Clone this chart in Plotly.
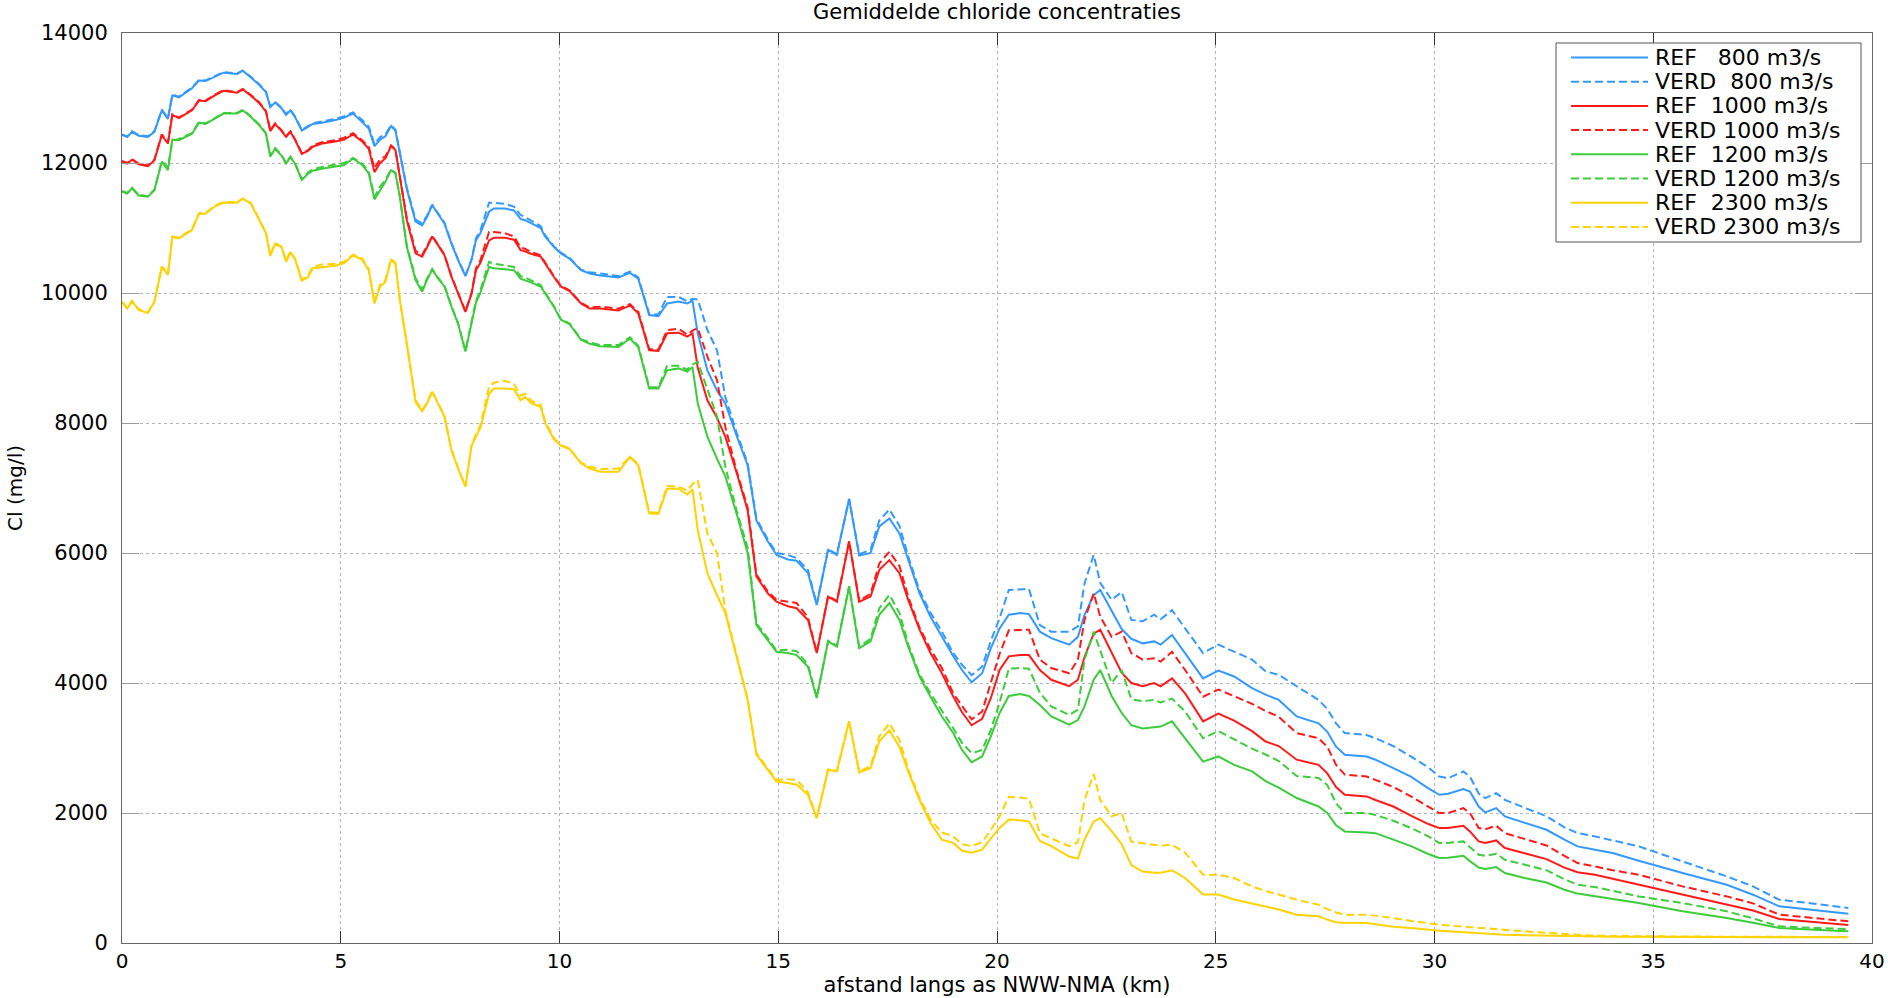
import plotly.graph_objects as go

km = [0.00, 0.12, 0.23, 0.38, 0.59, 0.74, 0.91, 1.05, 1.15, 1.30, 1.60, 1.76, 1.91, 2.12, 2.32, 2.63, 2.76, 2.94,
      3.14, 3.29, 3.39, 3.50, 3.65, 3.75, 3.85, 3.96, 4.11, 4.26, 4.36, 4.57, 4.88, 5.08, 5.28, 5.49, 5.64, 5.77,
      5.90, 6.02, 6.15, 6.25, 6.35, 6.51, 6.71, 6.86, 6.97, 7.09, 7.22, 7.37, 7.53, 7.68, 7.85, 7.99, 8.09, 8.19,
      8.39, 8.50, 8.75, 8.96, 9.11, 9.21, 9.36, 9.57, 9.67, 9.87, 10.03, 10.23, 10.49, 10.69, 10.93, 11.35, 11.61,
      11.80, 12.05, 12.26, 12.46, 12.72, 12.92, 13.04, 13.16, 13.38, 13.60, 13.79, 14.05, 14.30, 14.50, 14.76,
      14.96, 15.22, 15.42, 15.68, 15.88, 16.14, 16.34, 16.62, 16.85, 17.11, 17.31, 17.54, 17.77, 17.97, 18.23,
      18.48, 18.74, 19.00, 19.20, 19.42, 19.66, 19.86, 20.06, 20.27, 20.52, 20.73, 20.98, 21.24, 21.65, 21.85,
      22.00, 22.21, 22.36, 22.62, 22.85, 23.07, 23.33, 23.59, 23.74, 24.00, 24.30, 24.71, 25.06, 25.42, 25.83,
      26.14, 26.44, 26.85, 27.35, 27.55, 27.75, 27.95, 28.45, 28.65, 29.06, 29.46, 29.86, 30.11, 30.31, 30.66,
      30.81, 31.01, 31.16, 31.41, 31.61, 32.06, 32.56, 32.97, 33.27, 33.67, 34.07, 34.67, 35.67, 36.68, 37.28,
      37.88, 38.68, 39.46]

ref_800 = [12430, 12400, 12480, 12420, 12400, 12480, 12810, 12680, 13040, 13010, 13150, 13270, 13260, 13330, 13390, 13370, 13420, 13320,
           13200, 13090, 12860, 12930, 12840, 12740, 12810, 12700, 12500, 12560, 12600, 12620, 12660, 12700, 12760, 12630, 12530, 12260,
           12360, 12410, 12570, 12500, 12150, 11600, 11100, 11040, 11170, 11350, 11220, 11070, 10760, 10510, 10260, 10510, 10810, 10920,
           11250, 11300, 11300, 11270, 11140, 11120, 11070, 11000, 10870, 10710, 10610, 10530, 10350, 10300, 10270, 10240, 10310,
           10220, 9660, 9645, 9840, 9870, 9840, 9880, 9380, 8810, 8500, 8300, 7800, 7350, 6500, 6180,
           5970, 5900, 5880, 5690, 5200, 6050, 5970, 6830, 5960, 6000, 6410, 6530, 6300, 5890, 5380,
           5020, 4710, 4410, 4200, 4010, 4150, 4535, 4840, 5050, 5075, 5060, 4790, 4690, 4590, 4710,
           5050, 5350, 5430, 5120, 4830, 4680, 4610, 4640, 4590, 4740, 4460, 4070, 4190, 4100, 3920,
           3820, 3740, 3485, 3380, 3250, 3020, 2895, 2870, 2820, 2690, 2560, 2380, 2280, 2296, 2367,
           2330, 2100, 2009, 2075, 1947, 1845, 1742, 1590, 1486, 1435, 1384, 1266, 1076, 897, 743,
           564, 512, 451]

verd_800 = [12440, 12410, 12490, 12430, 12410, 12490, 12820, 12690, 13050, 13020, 13160, 13280, 13270, 13340, 13400, 13380, 13420, 13330,
            13210, 13100, 12870, 12940, 12850, 12750, 12820, 12710, 12510, 12570, 12610, 12640, 12680, 12720, 12780, 12660, 12560, 12290,
            12400, 12440, 12580, 12510, 12160, 11620, 11130, 11070, 11190, 11360, 11230, 11080, 10770, 10520, 10270, 10520, 10840, 10960,
            11390, 11390, 11370, 11330, 11200, 11170, 11110, 11030, 10890, 10720, 10620, 10540, 10360, 10320, 10300, 10260, 10330,
            10240, 9680, 9670, 9940, 9940, 9870, 9910, 9900, 9430, 9120, 8400, 7850, 7380, 6530, 6210,
            6000, 5970, 5920, 5740, 5210, 6060, 5980, 6830, 5980, 6050, 6500, 6670, 6420, 5950, 5420,
            5080, 4790, 4460, 4280, 4120, 4250, 4650, 5000, 5430, 5440, 5450, 4890, 4790, 4790, 4870,
            5530, 5970, 5540, 5280, 5400, 4970, 4950, 5050, 4980, 5120, 4840, 4460, 4590, 4480, 4360,
            4180, 4125, 3950, 3740, 3600, 3380, 3230, 3200, 3150, 3030, 2870, 2700, 2560, 2536, 2639,
            2560, 2300, 2229, 2306, 2203, 2080, 1950, 1780, 1691, 1640, 1580, 1486, 1255, 1025, 871,
            666, 605, 538]

ref_1000 = [12020, 11990, 12050, 11980, 11950, 12040, 12430, 12300, 12740, 12690, 12810, 12960, 12950, 13040, 13110, 13080, 13130, 13040,
            12920, 12790, 12490, 12600, 12490, 12400, 12480, 12350, 12140, 12190, 12250, 12300, 12330, 12360, 12440, 12330, 12220, 11860,
            12000, 12070, 12260, 12200, 11790, 11120, 10610, 10560, 10700, 10870, 10740, 10580, 10250, 9990, 9710, 9990, 10350, 10460,
            10810, 10850, 10850, 10820, 10660, 10640, 10600, 10560, 10450, 10250, 10100, 10030, 9840, 9760, 9760, 9730, 9810,
            9690, 9120, 9110, 9380, 9390, 9330, 9380, 8850, 8350, 8080, 7790, 7230, 6660, 5640, 5380,
            5250, 5180, 5150, 4970, 4460, 5330, 5250, 6175, 5250, 5330, 5740, 5890, 5690, 5280, 4820,
            4460, 4150, 3790, 3550, 3350, 3450, 3770, 4200, 4410, 4430, 4430, 4200, 4050, 3950, 4050,
            4400, 4760, 4820, 4460, 4160, 4000, 3950, 4000, 3950, 4070, 3840, 3410, 3530, 3420, 3260,
            3100, 3030, 2820, 2740, 2610, 2400, 2280, 2255, 2200, 2100, 1960, 1830, 1768, 1768, 1804,
            1717, 1563, 1538, 1578, 1461, 1380, 1290, 1160, 1090, 1050, 990, 897, 743, 589, 500,
            369, 317, 276]

verd_1000 = [12030, 12000, 12060, 11990, 11960, 12050, 12440, 12310, 12750, 12700, 12820, 12970, 12960, 13050, 13120, 13090, 13140, 13050,
             12930, 12800, 12500, 12610, 12500, 12410, 12490, 12360, 12150, 12200, 12270, 12320, 12350, 12390, 12460, 12350, 12250, 11920,
             12060, 12100, 12270, 12210, 11800, 11150, 10650, 10590, 10720, 10880, 10750, 10590, 10260, 10000, 9720, 10000, 10380, 10500,
             10940, 10940, 10920, 10870, 10700, 10680, 10630, 10580, 10470, 10260, 10110, 10040, 9850, 9780, 9790, 9760, 9830,
             9710, 9140, 9130, 9430, 9450, 9360, 9420, 9460, 9020, 8660, 7940, 7260, 6700, 5670, 5410,
             5280, 5250, 5230, 5010, 4470, 5340, 5260, 6180, 5270, 5370, 5840, 6020, 5800, 5330, 4850,
             4520, 4230, 3840, 3640, 3440, 3560, 3990, 4450, 4810, 4820, 4820, 4360, 4230, 4150, 4360,
             4970, 5380, 5020, 4710, 4790, 4460, 4360, 4380, 4330, 4480, 4200, 3790, 3900, 3800, 3680,
             3570, 3480, 3230, 3150, 3020, 2740, 2590, 2560, 2510, 2400, 2255, 2100, 2000, 2000, 2075,
             2000, 1768, 1750, 1804, 1691, 1600, 1500, 1340, 1230, 1178, 1120, 1050, 871, 717, 610,
             436, 384, 333]

ref_1200 = [11560, 11530, 11610, 11500, 11480, 11580, 12020, 11890, 12360, 12350, 12450, 12620, 12600, 12680, 12760, 12760, 12810, 12710,
            12580, 12450, 12100, 12220, 12110, 11990, 12090, 11980, 11740, 11840, 11880, 11910, 11940, 11970, 12070, 11970, 11840, 11440,
            11580, 11710, 11890, 11840, 11480, 10710, 10200, 10020, 10200, 10360, 10230, 10100, 9790, 9530, 9100, 9530, 9850, 10000,
            10400, 10380, 10360, 10350, 10220, 10200, 10160, 10100, 9990, 9790, 9590, 9520, 9280, 9220, 9180, 9170, 9300,
            9170, 8530, 8530, 8810, 8840, 8790, 8860, 8300, 7790, 7450, 7180, 6600, 6000, 4890, 4660,
            4480, 4460, 4430, 4250, 3770, 4640, 4560, 5480, 4535, 4640, 5050, 5230, 4970, 4560, 4100,
            3790, 3485, 3230, 2970, 2780, 2870, 3180, 3540, 3800, 3830, 3800, 3660, 3485, 3360, 3430,
            3640, 4050, 4200, 3800, 3540, 3350, 3300, 3320, 3330, 3410, 3150, 2790, 2870, 2740, 2640,
            2490, 2390, 2230, 2100, 2000, 1810, 1717, 1700, 1690, 1590, 1490, 1370, 1307, 1310, 1342,
            1260, 1160, 1138, 1168, 1076, 1000, 930, 820, 760, 720, 680, 615, 487, 384, 310,
            231, 205, 179]

verd_1200 = [11570, 11540, 11620, 11510, 11490, 11590, 12030, 11930, 12340, 12370, 12460, 12630, 12610, 12690, 12770, 12770, 12820, 12720,
             12590, 12460, 12110, 12230, 12120, 12000, 12100, 11990, 11750, 11860, 11900, 11940, 11970, 12000, 12080, 11990, 11870, 11480,
             11640, 11740, 11900, 11850, 11490, 10730, 10230, 10050, 10220, 10370, 10240, 10110, 9800, 9540, 9110, 9540, 9880, 10040,
             10480, 10450, 10420, 10400, 10260, 10240, 10190, 10120, 10010, 9800, 9600, 9530, 9290, 9240, 9200, 9200, 9320,
             9190, 8550, 8550, 8880, 8880, 8820, 8900, 8940, 8510, 8100, 7330, 6650, 6080, 4920, 4690,
             4500, 4510, 4490, 4280, 3780, 4650, 4570, 5490, 4560, 4680, 5150, 5355, 5080, 4600, 4130,
             3840, 3580, 3305, 3080, 2920, 2970, 3280, 3700, 4220, 4230, 4220, 3850, 3640, 3510, 3590,
             4360, 4790, 4500, 4000, 4200, 3750, 3720, 3740, 3700, 3760, 3560, 3150, 3260, 3130, 2990,
             2900, 2800, 2570, 2540, 2430, 2150, 2000, 2000, 1970, 1880, 1770, 1640, 1538, 1540, 1563,
             1480, 1358, 1340, 1373, 1281, 1200, 1120, 980, 897, 860, 800, 717, 615, 487, 380,
             256, 231, 215]

ref_2300 = [9860, 9760, 9870, 9740, 9690, 9860, 10400, 10280, 10860, 10840, 10970, 11220, 11220, 11330, 11390, 11390, 11450, 11380,
            11120, 10920, 10570, 10760, 10700, 10480, 10630, 10510, 10190, 10250, 10380, 10400, 10420, 10460, 10580, 10510, 10350, 9840,
            10100, 10170, 10510, 10450, 9890, 9220, 8320, 8180, 8300, 8480, 8300, 8100, 7580, 7300, 7020, 7650, 7790, 7920,
            8450, 8530, 8530, 8520, 8350, 8400, 8300, 8250, 8000, 7750, 7650, 7600, 7380, 7300, 7250, 7250, 7480,
            7350, 6610, 6600, 6990, 6990, 6900, 6980, 6350, 5690, 5350, 5080, 4400, 3740, 2900, 2665,
            2485, 2460, 2435, 2280, 1920, 2665, 2640, 3410, 2625, 2690, 3100, 3270, 3020, 2640, 2200,
            1845, 1590, 1540, 1420, 1390, 1435, 1610, 1770, 1900, 1890, 1870, 1570, 1490, 1330, 1300,
            1590, 1870, 1920, 1720, 1520, 1200, 1100, 1080, 1080, 1120, 1000, 745, 745, 670, 610,
            570, 515, 436, 410, 360, 320, 310, 307, 290, 250, 230, 200, 190, 180, 164,
            160, 150, 145, 135, 128, 120, 112, 105, 102, 100, 98, 95, 92, 90, 88,
            87, 87, 87]

verd_2300 = [9870, 9770, 9880, 9750, 9700, 9870, 10410, 10300, 10870, 10850, 10980, 11230, 11230, 11340, 11400, 11400, 11450, 11390,
             11130, 10930, 10580, 10770, 10710, 10490, 10640, 10520, 10200, 10280, 10400, 10440, 10450, 10480, 10590, 10530, 10370, 9860,
             10130, 10200, 10520, 10460, 9900, 9240, 8350, 8200, 8310, 8490, 8310, 8110, 7590, 7310, 7030, 7660, 7830, 7960,
             8560, 8620, 8650, 8600, 8420, 8450, 8340, 8280, 8030, 7770, 7660, 7610, 7390, 7330, 7290, 7300, 7480,
             7370, 6630, 6620, 7030, 7020, 6960, 7060, 7120, 6300, 6000, 5120, 4420, 3760, 2920, 2690,
             2510, 2520, 2510, 2320, 1930, 2670, 2650, 3410, 2640, 2720, 3180, 3380, 3120, 2680, 2230,
             1900, 1700, 1640, 1520, 1490, 1550, 1740, 1950, 2250, 2240, 2220, 1690, 1610, 1490, 1550,
             2200, 2600, 2200, 1950, 2000, 1560, 1530, 1510, 1500, 1510, 1390, 1050, 1050, 1000, 870,
             800, 745, 666, 590, 520, 470, 436, 436, 420, 384, 340, 300, 282, 270, 250,
             240, 230, 220, 210, 205, 180, 155, 135, 125, 112, 108, 102, 100, 97, 95,
             93, 92, 92]

legend_names = ["REF\u00a0\u00a0\u00a0800 m3/s", "VERD\u00a0\u00a0800 m3/s",
                "REF\u00a0\u00a01000 m3/s", "VERD 1000 m3/s",
                "REF\u00a0\u00a01200 m3/s", "VERD 1200 m3/s",
                "REF\u00a0\u00a02300 m3/s", "VERD 2300 m3/s"]

BLUE, RED, GREEN, YELLOW = "#3399ff", "#ff1a1a", "#3ccc3c", "#ffd200"
series = [ref_800, verd_800, ref_1000, verd_1000, ref_1200, verd_1200, ref_2300, verd_2300]
colors = [BLUE, BLUE, RED, RED, GREEN, GREEN, YELLOW, YELLOW]
dashes = ["solid", "8px,4px"] * 4

for s in series:
    assert len(s) == len(km), (len(s), len(km))

fig = go.Figure()
for name, ys, col, dsh in zip(legend_names, series, colors, dashes):
    fig.add_trace(go.Scatter(x=km, y=ys, mode="lines", name=name, showlegend=False,
                             line=dict(color=col, width=2, dash=dsh)))

W, H = 1888, 998
ML, MR, MT, MB = 122, 16, 33, 55
PW, PH = W - ML - MR, H - MT - MB


def px_x(p):
    return (p - ML) / PW


def px_y(p):
    return (H - MB - p) / PH


# legend box drawn in paper coordinates (layout decoration, not data)
LEG_L, LEG_R, LEG_T, LEG_B = 1556, 1861, 43, 242
ROW0, ROW_STEP = 57.5, 24.2
shapes = [dict(type="rect", xref="paper", yref="paper", x0=px_x(LEG_L), x1=px_x(LEG_R),
               y0=px_y(LEG_B), y1=px_y(LEG_T), line=dict(color="#555555", width=1),
               fillcolor="white", layer="above")]
annotations = []
for i, (name, col, dsh) in enumerate(zip(legend_names, colors, dashes)):
    yy = px_y(ROW0 + i * ROW_STEP)
    shapes.append(dict(type="line", xref="paper", yref="paper", x0=px_x(1571), x1=px_x(1648),
                       y0=yy, y1=yy, line=dict(color=col, width=2, dash=dsh), layer="above"))
    annotations.append(dict(text=name, xref="paper", yref="paper", x=px_x(1654), y=yy,
                            xanchor="left", yanchor="middle", showarrow=False,
                            font=dict(size=22, color="black"), borderpad=0))

fig.update_layout(
    width=W, height=H,
    margin=dict(l=ML, r=MR, t=MT, b=MB, autoexpand=False),
    paper_bgcolor="white", plot_bgcolor="white",
    font=dict(family="DejaVu Sans", size=21, color="black"),
    title=dict(text="Gemiddelde chloride concentraties", x=0.5, xref="paper", xanchor="center",
               y=1 - 12 / H, yref="container", yanchor="middle", font=dict(size=21)),
    showlegend=False,
    shapes=shapes,
    annotations=annotations,
)
fig.update_xaxes(range=[0, 40], tick0=0, dtick=5, showgrid=True, gridcolor="#b4b4b4", griddash="dot",
                 gridwidth=1, showline=True, linecolor="#666666", linewidth=1, mirror="ticks",
                 ticks="inside", ticklen=12, tickcolor="#333333", zeroline=False, automargin=False,
                 ticklabelstandoff=0, tickfont=dict(size=20),
                 title=dict(text="afstand langs as NWW-NMA (km)", standoff=3, font=dict(size=21)))
fig.update_yaxes(range=[0, 14000], tick0=0, dtick=2000, tickformat="d", showgrid=True, gridcolor="#b4b4b4",
                 griddash="dot", gridwidth=1, showline=True, linecolor="#666666", linewidth=1, mirror="ticks",
                 ticks="inside", ticklen=17, tickcolor="#999999", zeroline=False, automargin=False,
                 ticklabelstandoff=9, tickfont=dict(size=21),
                 title=dict(text="Cl (mg/l)", standoff=12, font=dict(size=20)))

fig.write_html("out.html", config={"displayModeBar": False},
               post_script="document.body.style.margin='0';document.body.style.overflow='hidden';")
